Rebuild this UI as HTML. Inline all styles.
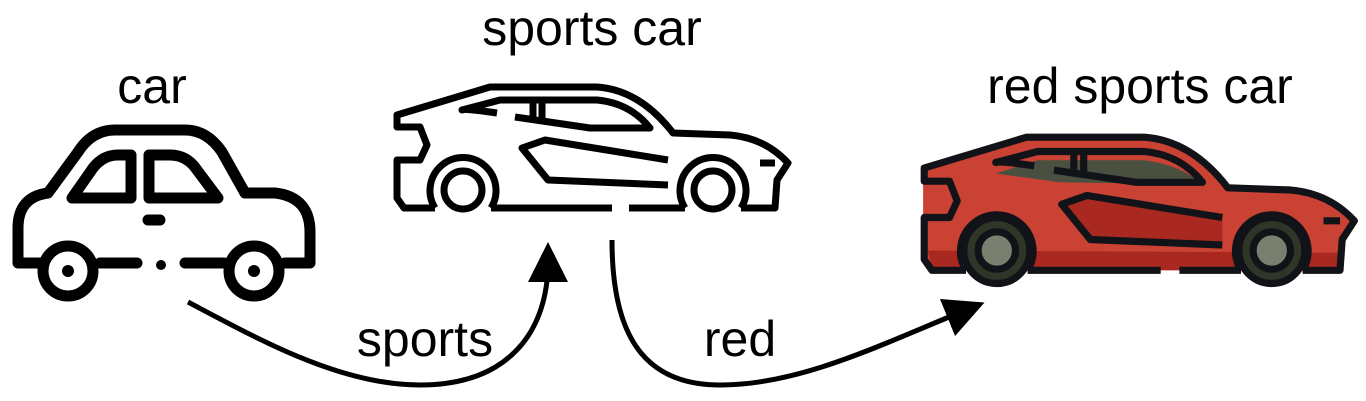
<!DOCTYPE html>
<html><head><meta charset="utf-8"><style>
html,body{margin:0;padding:0;background:#fff;width:1366px;height:401px;overflow:hidden}
svg{display:block}
text{font-family:"Liberation Sans",Arial,sans-serif;font-size:50px;fill:#000}
</style></head><body>
<svg width="1366" height="401" viewBox="0 0 1366 401" xmlns="http://www.w3.org/2000/svg">
<defs>
<marker id="ah" markerWidth="8" markerHeight="8" refX="4" refY="4" orient="auto" markerUnits="strokeWidth">
<path d="M0,0 L8,4 L0,8 Z" fill="#000"/></marker>
</defs>
<text x="152" y="103" text-anchor="middle">car</text>
<text x="592" y="45" text-anchor="middle">sports car</text>
<text x="1140" y="103" text-anchor="middle">red sports car</text>
<text x="425" y="356" text-anchor="middle">sports</text>
<text x="740" y="356" text-anchor="middle">red</text>

<!-- simple car -->
<g fill="none" stroke="#000" stroke-width="11" stroke-linecap="round" stroke-linejoin="round">
<path d="M40,263 L18,263 L18,228 Q18,197 48,193 L78,152 Q92,130 115,130 L185,130 Q207,130 222,152 L245,193 L275,193 Q310,197 310,232 L310,263 L285,263"/>
<path d="M72,198 L93,168 Q103,155 118,155 L131,155 L131,198 Z"/>
<path d="M149,155 L170,155 Q187,155 197,170 L218,198 L149,198 Z"/>
<line x1="148" y1="220" x2="160" y2="220"/>
<line x1="100" y1="263" x2="137" y2="263"/>
<line x1="185" y1="263" x2="224" y2="263"/>
<circle cx="68" cy="271" r="25"/>
<circle cx="254" cy="271" r="25"/>
</g>
<circle cx="161" cy="265" r="5" fill="#000"/>
<circle cx="68" cy="271" r="6" fill="#000"/>
<circle cx="254" cy="271" r="6" fill="#000"/>

<!-- red car fill -->
<g transform="translate(487.5,41.5) scale(1.1)">
<path d="M396,118 L490,89 L597,89 Q640,92 673,133 L730,135 Q765,138 788,163 L777,180 L774,208 L405,208 L396,195 Z" fill="#c94234"/>
<path d="M400,190 L774,192 L774,208 L405,208 Z" fill="#a9281f"/>
<path d="M462,120 L500,108 L597,108 Q630,112 650,130 L520,128 Z" fill="#4a5040"/>
<circle cx="463" cy="190" r="30" fill="#2f3628"/>
<circle cx="713" cy="190" r="30" fill="#2f3628"/>
<circle cx="463" cy="190" r="15" fill="#7a8070"/>
<circle cx="713" cy="190" r="15" fill="#7a8070"/>
<path d="M520,148 L540,140 L668,158 L668,185 L545,178 Z" fill="#a9281f"/>
</g>

<!-- sports car outline -->
<g fill="none" stroke="#000" stroke-width="7" stroke-linejoin="round" stroke-linecap="butt">
<path d="M435,208 L404,208 L397,198 L397,160 L420,160 L427,145 L420,127 L397,127 L397,115 L490,87 L597,87 Q640,90 673,133 L730,135 Q765,138 788,163 L777,180 L775,208 L741,208"/>
<path d="M435,208 A33,33 0 1 1 491,208"/>
<path d="M685,208 A33,33 0 1 1 741,208"/>
<line x1="491" y1="208" x2="612" y2="208"/>
<line x1="629" y1="208" x2="685" y2="208"/>
<circle cx="463" cy="190" r="19"/>
<circle cx="713" cy="190" r="19"/>
<path d="M497,113 Q462,108 462,110 L500,100 L597,100 Q630,103 650,128 L590,128 L515,117"/>
<line x1="533" y1="102" x2="533" y2="118"/>
<line x1="542" y1="102" x2="542" y2="120"/>
<path d="M668,160 L545,140 L522,148 L548,180 L668,185"/>
<line x1="775" y1="163" x2="760" y2="163"/>
</g>
<g transform="translate(487.5,41.5) scale(1.1)">
<g fill="none" stroke="#111318" stroke-width="6.5" stroke-linejoin="round">
<path d="M435,208 L404,208 L397,198 L397,160 L420,160 L427,145 L420,127 L397,127 L397,115 L490,87 L597,87 Q640,90 673,133 L730,135 Q765,138 788,163 L777,180 L775,208 L741,208"/>
<path d="M435,208 A33,33 0 1 1 491,208"/>
<path d="M685,208 A33,33 0 1 1 741,208"/>
<line x1="491" y1="208" x2="612" y2="208"/>
<line x1="629" y1="208" x2="685" y2="208"/>
<circle cx="463" cy="190" r="17"/>
<circle cx="713" cy="190" r="17"/>
<circle cx="463" cy="190" r="30"/>
<circle cx="713" cy="190" r="30"/>
<path d="M497,113 Q462,108 462,110 L500,100 L597,100 Q630,103 650,128 L590,128 L515,117"/>
<line x1="533" y1="102" x2="533" y2="118"/>
<line x1="542" y1="102" x2="542" y2="120"/>
<path d="M668,160 L545,140 L522,148 L548,180 L668,185"/>
<line x1="775" y1="163" x2="760" y2="163"/>
</g>
</g>

<!-- arrows -->
<path d="M188,302 C260,340 340,385 420,385 C510,385 548,330 548,262" fill="none" stroke="#000" stroke-width="5" marker-end="url(#ah)"/>
<path d="M612,240 C612,330 640,385 720,385 C800,385 880,345 966,310" fill="none" stroke="#000" stroke-width="5" marker-end="url(#ah)"/>
</svg>
</body></html>
